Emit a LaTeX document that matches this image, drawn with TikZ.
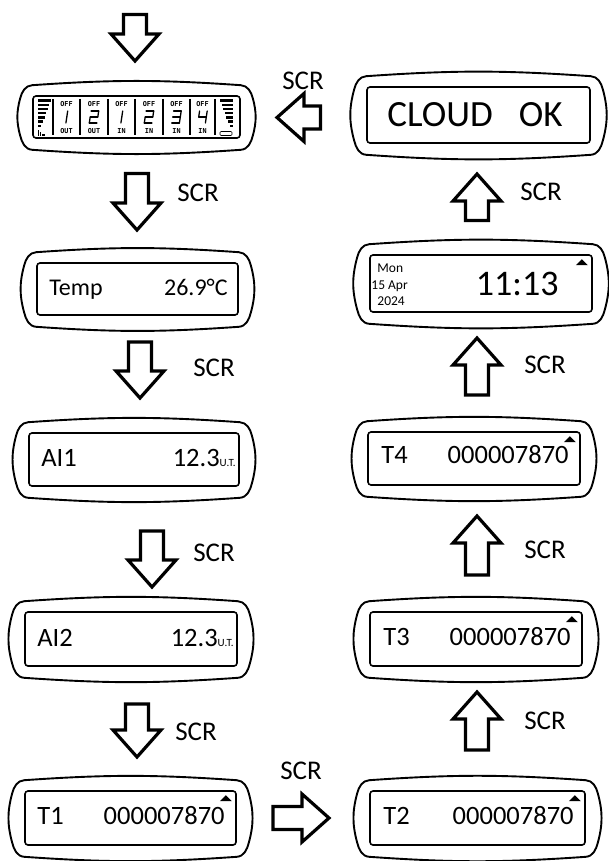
\documentclass[tikz,border=0pt]{standalone}
\usepackage{fontspec}
\setmainfont{Carlito}
\newfontfamily\tinyfont{DejaVu Sans Mono}
\usetikzlibrary{calc}

% outer case round an inner screen node
\newcommand\bezel[1]{%
  \draw[bezelline] ($(#1.north west)+(0,-10)$) to[out=4,in=176] ($(#1.north east)+(0,-10)$)
    to[out=-4,in=105] ($(#1.north east)+(12,3)$) to[out=-75,in=75] ($(#1.south east)+(12,-3)$)
    to[out=-105,in=4] ($(#1.south east)+(0,11)$) to[out=184,in=-4] ($(#1.south west)+(0,11)$)
    to[out=176,in=-75] ($(#1.south west)+(-12,-3)$) to[out=105,in=-105] ($(#1.north west)+(-12,3)$)
    to[out=75,in=184] cycle;}
% hollow block arrow from #1 (tail) to #2 (tip)
\newcommand\scrarrow[2]{%
  \draw[blockarrow] ($(#1)!11.5pt!90:(#2)$)
    -- ($(#2)!27pt!(#1)!11.5pt!90:(#2)$)
    -- ($(#2)!27pt!(#1)!24pt!90:(#2)$)
    -- (#2)
    -- ($(#2)!27pt!(#1)!24pt!-90:(#2)$)
    -- ($(#2)!27pt!(#1)!11.5pt!-90:(#2)$)
    -- ($(#1)!11.5pt!-90:(#2)$) -- cycle;}
% small marker in the upper right corner of a screen
\newcommand\uptick[1]{%
  \fill ($(#1.north east)+(-5,11)$) -- ++(-12,0) -- ++(6,-6) -- cycle;}

\begin{document}
\begin{tikzpicture}[x=1pt, y=-1pt,
	screen/.style={draw, line width=1.6pt, rounded corners=3pt, inner sep=0pt},
	bezelline/.style={line width=1.9pt},
	blockarrow/.style={line width=3.2pt, line join=miter},
	scr/.style={font=\fontsize{27}{27}\selectfont, inner sep=0pt},
	lcd/.style={font=\fontsize{26.5}{26.5}\selectfont, inner sep=0pt},
	datetxt/.style={font=\fontsize{13.5}{13.5}\selectfont, inner sep=0pt, anchor=base west},
	tinylbl/.style={font=\tinyfont\bfseries\fontsize{6.8}{6.8}\selectfont, inner sep=0pt},
	segline/.style={line width=1.3pt, line cap=round}]
	\useasboundingbox (0,0) rectangle (608,861);

	% screens
	\node[screen, minimum width=207pt, minimum height=42pt] (status) at (136.5,117) {};
	\node[screen, minimum width=201pt, minimum height=52pt] (temp) at (137.5,289) {};
	\node[screen, minimum width=210pt, minimum height=53pt] (ai1) at (134,459.5) {};
	\node[screen, minimum width=212pt, minimum height=54pt] (ai2) at (131,639) {};
	\node[screen, minimum width=211pt, minimum height=54pt] (t1) at (130.5,818) {};
	\node[screen, minimum width=223pt, minimum height=56pt] (cloud) at (478.5,115) {};
	\node[screen, minimum width=222pt, minimum height=57pt] (clock) at (481,283.5) {};
	\node[screen, minimum width=212pt, minimum height=53pt] (t4) at (474,458.5) {};
	\node[screen, minimum width=212pt, minimum height=54pt] (t3) at (476,639) {};
	\node[screen, minimum width=215pt, minimum height=54pt] (t2) at (477.5,818) {};
	\foreach \s in {status,temp,ai1,ai2,t1,cloud,clock,t4,t3,t2}{
	  \bezel{\s}
	}

	% status screen
	\foreach \i in {0,...,6}{
	  \fill (38,{99.5+4.2*\i}) rectangle ({51-1.6*\i},{101.9+4.2*\i});
	  \fill ({220+1.6*\i},{99.5+4.2*\i}) rectangle (233,{101.9+4.2*\i});
	}
	\fill (38,130) rectangle (39,136);
	\fill (40,132) rectangle (41,136);
	\fill (42,134) rectangle (45,136);
	\draw[line width=0.6pt, rounded corners=1pt] (220,131.5) rectangle (232,135.5);
	\foreach \x in {53,80,108,135,163,190,215}{
	  \draw[line width=1.2pt] (\x,99) -- (\x,135);
	}
	\foreach \cx/\dx/\segs/\lab [count=\k] in {
	    66.5/-3.5/{tr/mr,mr/br}/OUT,
	    94/0/{tl/tr,tr/mr,mr/ml,ml/bl,bl/br}/OUT,
	    121.5/-3.5/{tr/mr,mr/br}/IN,
	    149/0/{tl/tr,tr/mr,mr/ml,ml/bl,bl/br}/IN,
	    176.5/0/{tl/tr,tr/mr,ml/mr,mr/br,bl/br}/IN,
	    202.5/0/{tl/ml,ml/mr,tr/mr,mr/br}/IN}{
	  \node[tinylbl] (off\k) at (\cx,104) {OFF};
	  \node[tinylbl] (io\k) at (\cx,131) {\lab};
	  \begin{scope}[shift={({\cx+\dx},117)}, xslant=0.15]
	    \coordinate (tl) at (-3.8,-6);
	    \coordinate (tr) at (3.8,-6);
	    \coordinate (ml) at (-3.8,0);
	    \coordinate (mr) at (3.8,0);
	    \coordinate (bl) at (-3.8,6);
	    \coordinate (br) at (3.8,6);
	    \foreach \p/\q in \segs {\draw[segline] (\p) -- (\q);}
	  \end{scope}
	}

	% left column texts
	\node[lcd, font=\fontsize{24}{24}\selectfont, anchor=base west] (templ) at ($(temp.west)+(13,6)$) {Temp};
	\node[lcd, font=\fontsize{24}{24}\selectfont, anchor=base east] (tempv) at ($(temp.east)+(-11,6)$) {26.9°C};
	\node[lcd, anchor=base west] (ai1l) at ($(ai1.west)+(13,7)$) {AI1};
	\node[lcd, anchor=base east] (ai1v) at ($(ai1.east)+(-4,7)$) {12.3{\fontsize{11}{11}\selectfont U.T.}};
	\node[lcd, anchor=base west] (ai2l) at ($(ai2.west)+(13,7)$) {AI2};
	\node[lcd, anchor=base east] (ai2v) at ($(ai2.east)+(-4,7)$) {12.3{\fontsize{11}{11}\selectfont U.T.}};
	\node[lcd, anchor=base west] (t1l) at ($(t1.west)+(13,6)$) {T1};
	\node[lcd, anchor=base east] (t1v) at ($(t1.east)+(-12,6)$) {000007870};

	% right column texts
	\node[lcd, font=\fontsize{37}{37}\selectfont, anchor=base west] (cloudl) at ($(cloud.west)+(21,12)$) {CLOUD};
	\node[lcd, font=\fontsize{37}{37}\selectfont, anchor=base east] (cloudr) at ($(cloud.east)+(-28,12)$) {OK};
	\node[datetxt] (day) at ($(clock.west)+(8,-11.5)$) {Mon};
	\node[datetxt] (date) at ($(clock.west)+(2,5.5)$) {15 Apr};
	\node[datetxt] (year) at ($(clock.west)+(8,21.5)$) {2024};
	\node[lcd, font=\fontsize{36}{36}\selectfont, anchor=base east] (time) at ($(clock.east)+(-34,11.5)$) {11:13};
	\node[lcd, anchor=base west] (t4l) at ($(t4.west)+(14,5)$) {T4};
	\node[lcd, anchor=base east] (t4v) at ($(t4.east)+(-12,5)$) {000007870};
	\node[lcd, anchor=base west] (t3l) at ($(t3.west)+(14,6)$) {T3};
	\node[lcd, anchor=base east] (t3v) at ($(t3.east)+(-12,6)$) {000007870};
	\node[lcd, anchor=base west] (t2l) at ($(t2.west)+(14,6)$) {T2};
	\node[lcd, anchor=base east] (t2v) at ($(t2.east)+(-12,6)$) {000007870};
	\foreach \s in {clock,t4,t3,t2,t1}{
	  \uptick{\s}
	}

	% arrows
	\coordinate (in0) at (135,14.5);   \coordinate (in1) at (135,61);
	\coordinate (a1t) at (137,173.5);  \coordinate (a1h) at (137,230);
	\coordinate (a2t) at (140,342);    \coordinate (a2h) at (140,398);
	\coordinate (a3t) at (152,531);    \coordinate (a3h) at (152,587);
	\coordinate (a4t) at (137,704);    \coordinate (a4h) at (137,757);
	\coordinate (a5t) at (273,818);    \coordinate (a5h) at (329,818);
	\coordinate (a6t) at (477,750);    \coordinate (a6h) at (477,692);
	\coordinate (a7t) at (477,575);    \coordinate (a7h) at (477,516);
	\coordinate (a8t) at (477,395);    \coordinate (a8h) at (477,338);
	\coordinate (a9t) at (477,220.5);  \coordinate (a9h) at (477,174);
	\coordinate (a10t) at (320.5,117.5); \coordinate (a10h) at (277,117.5);
	\scrarrow{in0}{in1}
	\foreach \n in {1,...,10}{
	  \scrarrow{a\n t}{a\n h}
	}
	\node[scr] (scr1) at (198,193) {SCR};
	\node[scr] (scr2) at (214,368) {SCR};
	\node[scr] (scr3) at (214,553) {SCR};
	\node[scr] (scr4) at (196,732) {SCR};
	\node[scr] (scr5) at (301,771) {SCR};
	\node[scr] (scr6) at (545,721) {SCR};
	\node[scr] (scr7) at (545,550) {SCR};
	\node[scr] (scr8) at (545,365) {SCR};
	\node[scr] (scr9) at (541,192) {SCR};
	\node[scr] (scr10) at (303,81) {SCR};
\end{tikzpicture}
\end{document}
